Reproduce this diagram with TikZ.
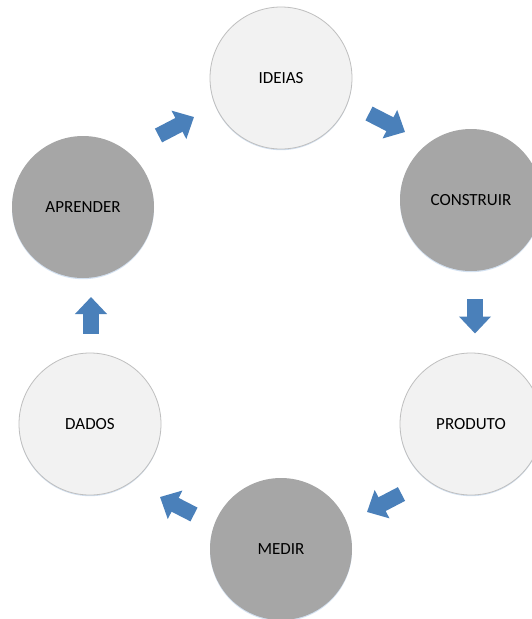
\documentclass[tikz,border=0pt]{standalone}
\usepackage{fontspec}
\setmainfont{Carlito}
\usetikzlibrary{arrows.meta,shadows}
\definecolor{lightfill}{HTML}{F2F2F2}
\definecolor{lightdraw}{HTML}{BFBFBF}
\definecolor{darkfill}{HTML}{A6A6A6}
\definecolor{arrowblue}{HTML}{4A80BA}
\definecolor{glow}{HTML}{C9DAEE}
\tikzset{
  stage/.style={circle, minimum size=142pt, inner sep=0pt,
    font=\fontsize{17}{19}\selectfont, text=black,
    drop shadow={shadow xshift=0pt, shadow yshift=-1.2pt, fill=glow, opacity=0.8}},
  lightstage/.style={stage, fill=lightfill, draw=lightdraw, line width=0.8pt},
  darkstage/.style={stage, fill=darkfill},
  blockarrow/.style={draw=arrowblue, line width=15.5pt,
    -{Triangle[length=17pt,width=31pt]}, arrowblue}
}
\begin{document}
\begin{tikzpicture}[x=1pt,y=-1pt]
\useasboundingbox (0,0) rectangle (531,619);
\fill[white] (0,0) rectangle (531,619);

\node[lightstage] (ideias)    at (281,78)  {IDEIAS};
\node[darkstage]  (construir) at (471,200) {CONSTRUIR};
\node[lightstage] (produto)   at (471,424) {PRODUTO};
\node[darkstage]  (medir)     at (281,549) {MEDIR};
\node[lightstage] (dados)     at (90,424)  {DADOS};
\node[darkstage]  (aprender)  at (83,207)  {APRENDER};

\coordinate (a1s) at (158.5,135.5); \coordinate (a1e) at (194,117);
\coordinate (a2s) at (369,113.5);   \coordinate (a2e) at (405,132);
\coordinate (a3s) at (475,299);     \coordinate (a3e) at (475,333.5);
\coordinate (a4s) at (401.5,494);   \coordinate (a4e) at (367,512);
\coordinate (a5s) at (194,514.5);   \coordinate (a5e) at (160,497);
\coordinate (a6s) at (91,333.5);    \coordinate (a6e) at (91,297);

\draw[blockarrow] (a1s) -- (a1e);
\draw[blockarrow] (a2s) -- (a2e);
\draw[blockarrow] (a3s) -- (a3e);
\draw[blockarrow] (a4s) -- (a4e);
\draw[blockarrow] (a5s) -- (a5e);
\draw[blockarrow] (a6s) -- (a6e);
\end{tikzpicture}
\end{document}
